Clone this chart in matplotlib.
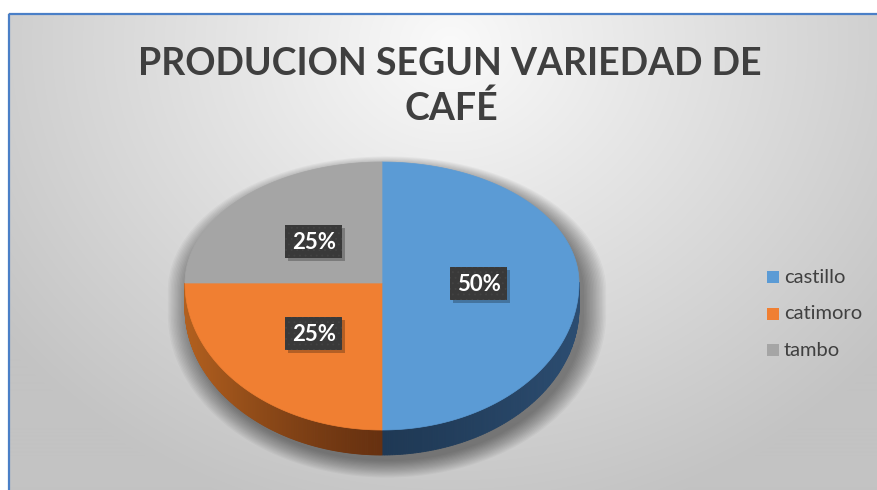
import numpy as np
import matplotlib
matplotlib.use('Agg')
import matplotlib.pyplot as plt
from matplotlib.patches import Polygon, Rectangle
from matplotlib.colors import to_rgb

# ---------------- data ----------------
categories = ['castillo', 'catimoro', 'tambo']
values = [50, 25, 25]
labels_pct = ['50%', '25%', '25%']
title_lines = ['PRODUCION SEGUN VARIEDAD DE', 'CAFÉ']

# ---------------- style ----------------
top_colors = ['#5B9BD5', '#F07F32', '#A5A5A5']
side_dark = ['#1F3955', '#673110', '#666666']
side_light = ['#2C4D71', '#B2601F', '#8C8C8C']
FONT = 'Lato'
W, H = 877, 490

fig = plt.figure(figsize=(W / 100, H / 100), dpi=100)
ax = fig.add_axes([0, 0, 1, 1])
ax.set_xlim(0, W)
ax.set_ylim(H, 0)
ax.axis('off')

# background gradient
yy, xx = np.mgrid[0:H, 0:W]
d = np.hypot((xx - 450) * 1.0, (yy - 45) * 1.15)
v = np.clip(250 - 0.098 * d, 195, 255) / 255.0
bg = np.dstack([v, v, v])
bg[:14, :, :] = 1.0
bg[:, :8, :] = 1.0
ax.imshow(bg, extent=(0, W, H, 0), aspect='auto', zorder=0, interpolation='bilinear')
ax.plot([8.5, W], [14.5, 14.5], color='#4A7FC7', lw=1.6, zorder=1, solid_capstyle='butt')
ax.plot([8.5, 8.5], [14.5, H], color='#4A7FC7', lw=1.6, zorder=1, solid_capstyle='butt')

# pie geometry (pixels)
cx, cy, rx, ryt, ryb, depth = 382, 283, 197, 121, 147, 25


def pt(t, f=1.0, dy=0.0, sx=1.0, sy=1.0):
    r = np.radians(t)
    s = np.sin(r)
    ry = np.where(s > 0, ryt, ryb)
    return cx + f * sx * rx * np.cos(r), cy - f * sy * ry * s + dy


# soft shadow
for k in range(16):
    g = 1.0 + k * 0.0075
    ts = np.linspace(0, 360, 400)
    x1, y1 = pt(ts, sx=g, sy=g)
    x1 = x1 + 5
    y1 = np.where(np.sin(np.radians(ts)) < 0, y1 + depth + 6, y1 + 8)
    ax.add_patch(Polygon(np.column_stack([x1, y1]), closed=True,
                         facecolor='black', edgecolor='none', alpha=0.03, zorder=2))

total = float(sum(values))
starts, ends = [], []
a = 90.0
for val in values:
    starts.append(a)
    a = a - 360.0 * val / total
    ends.append(a)

# sides (front half only)
for i, (s0, e0) in enumerate(zip(starts, ends)):
    ts = np.linspace(s0, e0, 240)
    dl, lt = np.array(to_rgb(side_dark[i])), np.array(to_rgb(side_light[i]))
    for j in range(len(ts) - 1):
        tm = 0.5 * (ts[j] + ts[j + 1])
        if np.sin(np.radians(tm)) > 0:
            continue
        xa, ya = pt(np.array([ts[j], ts[j + 1]]))
        mix = abs(np.cos(np.radians(tm))) ** 1.3
        col = dl + (lt - dl) * mix
        poly = [(xa[0], ya[0]), (xa[1], ya[1]), (xa[1], ya[1] + depth), (xa[0], ya[0] + depth)]
        ax.add_patch(Polygon(poly, closed=True, facecolor=col, edgecolor=col, lw=0.6, zorder=3))

# top faces
for i, (s0, e0) in enumerate(zip(starts, ends)):
    ts = np.linspace(s0, e0, 300)
    x, y = pt(ts)
    poly = np.vstack([[cx, cy], np.column_stack([x, y])])
    ax.add_patch(Polygon(poly, closed=True, facecolor=top_colors[i],
                         edgecolor=top_colors[i], lw=0.5, zorder=4))

# data labels
plt.rcParams['hatch.linewidth'] = 0.6
bw, bh = 57, 33
for i, (s0, e0) in enumerate(zip(starts, ends)):
    mid = 0.5 * (s0 + e0)
    lx, ly = pt(mid, f=0.49)
    lx, ly = float(lx), float(ly)
    ax.add_patch(Rectangle((lx - bw / 2 + 3, ly - bh / 2 + 3), bw, bh, facecolor='black',
                           edgecolor='none', alpha=0.25, zorder=5))
    ax.add_patch(Rectangle((lx - bw / 2, ly - bh / 2), bw, bh, facecolor='#393939',
                           edgecolor='#434343', lw=0, hatch='...', zorder=6))
    ax.text(lx, ly + 1, labels_pct[i], color='white', fontsize=16, fontweight='bold',
            family=FONT, ha='center', va='center', zorder=7)

# title
ax.text(450, 75, title_lines[0], color='#3F3F3F', fontsize=27, fontweight='bold',
        family=FONT, ha='center', va='baseline', zorder=8)
ax.text(451, 120, title_lines[1], color='#3F3F3F', fontsize=27, fontweight='bold',
        family=FONT, ha='center', va='baseline', zorder=8)

# legend
for i, name in enumerate(categories):
    y = 277 + i * 36.5
    ax.add_patch(Rectangle((767, y - 6), 12, 12, facecolor=top_colors[i], edgecolor='none', zorder=8))
    ax.text(784, y, name, color='#404040', fontsize=14.5, family=FONT,
            ha='left', va='center', zorder=8)

fig.savefig('out.png', dpi=100)
